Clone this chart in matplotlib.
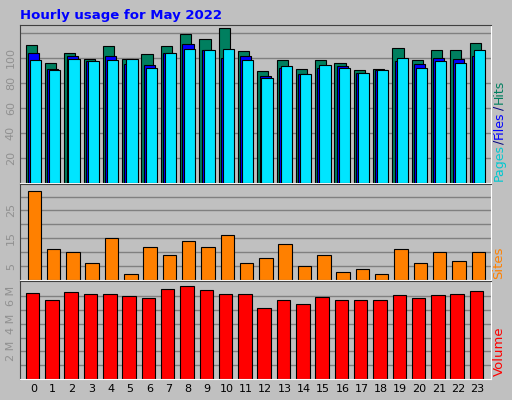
import matplotlib
matplotlib.use("Agg")
import matplotlib.pyplot as plt
import numpy as np

hours = list(range(24))
hits = [110, 96, 104, 99, 109, 99, 103, 109, 119, 115, 124, 105, 89, 98, 91, 98, 96, 90, 91, 108, 98, 106, 106, 112]
files = [104, 91, 101, 97, 101, 95, 94, 104, 111, 106, 100, 101, 85, 92, 87, 92, 93, 88, 90, 97, 95, 100, 99, 101]
pages = [98, 90, 99, 97, 98, 99, 92, 104, 107, 106, 107, 98, 84, 93, 87, 94, 92, 88, 90, 100, 92, 97, 96, 106]
sites = [32, 11, 10, 6, 15, 2, 12, 9, 14, 12, 16, 6, 8, 13, 5, 9, 3, 4, 2, 11, 6, 10, 7, 10]
volume = [6.2, 5.68, 6.27, 6.12, 6.12, 5.98, 5.83, 6.49, 6.72, 6.42, 6.12, 6.12, 5.16, 5.68, 5.46, 5.9, 5.75, 5.68, 5.75, 6.05, 5.83, 6.05, 6.12, 6.35]

BG = "#C0C0C0"
W, H = 512, 400
fig = plt.figure(figsize=(W/100, H/100), dpi=100, facecolor=BG)

def box(y0, y1):
    return [20/W, 1 - y1/H, (491-20)/W, (y1-y0)/H]

x = np.array(hours)
def style(ax, ylim, ticks, labels, grid):
    ax.set_facecolor(BG)
    ax.set_xlim(-0.7, 23.7)
    ax.set_ylim(*ylim)
    for g in grid:
        ax.axhline(g, color="#808080", lw=1, zorder=0)
    ax.set_yticks(ticks)
    ax.set_yticklabels(labels, rotation=90, va="center", color="#909090", fontsize=8)
    ax.tick_params(axis="y", length=0, pad=3)
    ax.tick_params(axis="x", length=0)
    for s in ["top", "left"]:
        ax.spines[s].set_color("#404040")
    for s in ["bottom", "right"]:
        ax.spines[s].set_color("white")

ax1 = fig.add_axes(box(25, 183))
ax1.bar(x-0.12, hits, 0.58, color="#007F5F", edgecolor="black", lw=0.8, zorder=2)
ax1.bar(x, files, 0.58, color="#0000FF", edgecolor="black", lw=0.8, zorder=3)
ax1.bar(x+0.1, pages, 0.58, color="#00E5FF", edgecolor="black", lw=0.8, zorder=4)
style(ax1, (0, 126), [20, 40, 60, 80, 100], ["20", "40", "60", "80", "100"], [20, 40, 60, 80, 100, 120])
ax1.set_xticks([])

ax2 = fig.add_axes(box(184, 280))
ax2.bar(x+0.04, sites, 0.7, color="#FF8000", edgecolor="black", lw=0.8, zorder=2)
style(ax2, (0, 34.5), [5, 15, 25], ["5", "15", "25"], [5, 10, 15, 20, 25, 30])
ax2.set_xticks([])

ax3 = fig.add_axes(box(281, 379))
ax3.bar(x-0.05, volume, 0.7, color="#FF0000", edgecolor="black", lw=0.8, zorder=2)
style(ax3, (0, 7.09), [2, 4, 6], ["2 M", "4 M", "6 M"], [1, 2, 3, 4, 5, 6])
ax3.set_xticks(hours)
ax3.set_xticklabels([str(h) for h in hours], fontsize=8)

fig.text(20/W, 1-15/H, "Hourly usage for May 2022", color="#0000FF", fontsize=9.5, fontweight="bold", va="center")

# right-side labels
def vtext(y, s, c):
    fig.text(499/W, 1-y/H, s, color=c, rotation=90, fontsize=9, ha="center", va="bottom")
vtext(181, "Pages", "#00C8D0")
vtext(144, "/", "#000080")
vtext(139, "Files", "#0000FF")
vtext(110, "/", "#000080")
vtext(104, "Hits", "#007F5F")
fig.text(499/W, 1-279/H, "Sites", color="#FF8000", rotation=90, fontsize=9.5, ha="center", va="bottom")
fig.text(499/W, 1-376/H, "Volume", color="#FF0000", rotation=90, fontsize=9.5, ha="center", va="bottom")

fig.savefig("out.png", dpi=100, facecolor=BG)
